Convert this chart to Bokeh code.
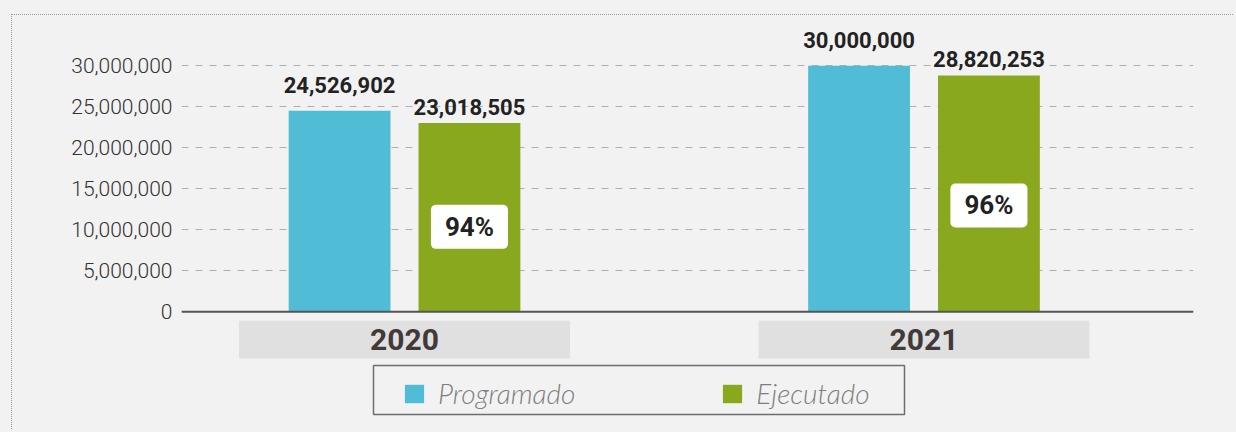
from bokeh.plotting import figure
from bokeh.models import (ColumnDataSource, Range1d, FixedTicker, NumeralTickFormatter,
                          Span, LabelSet, Label, BoxAnnotation, GlobalInlineStyleSheet)
from bokeh.transform import dodge
from bokeh.core.properties import value
from bokeh.embed import file_html
from bokeh.resources import INLINE

# ---- data ----
years = ["2020", "2021"]
programado = [24526902, 30000000]
ejecutado = [23018505, 28820253]
y_ticks = [0, 5000000, 10000000, 15000000, 20000000, 25000000, 30000000]

# ---- styles ----
C_PROG = "#50bcd5"
C_EJEC = "#8aa81d"
BG = "#f2f2f2"
OFF = 0.125

idx = list(range(len(years)))
pct = [f"{round(100 * e / p)}%" for e, p in zip(ejecutado, programado)]
src = ColumnDataSource(dict(
    idx=idx,
    year=years,
    prog=programado,
    ejec=ejecutado,
    prog_lbl=[f"{v:,}" for v in programado],
    ejec_lbl=[f"{v:,}" for v in ejecutado],
    cat_y=[-3.4e6] * len(years),
))

p = figure(width=1222, height=415, output_backend="svg", toolbar_location=None,
           x_range=Range1d(-0.4293, 1.5188), y_range=Range1d(-13.26e6, 35.77e6),
           min_border_left=169, min_border_right=41, min_border_top=3, min_border_bottom=10,
           background_fill_color=BG, border_fill_color=BG, outline_line_color=None)
p.margin = (14, 0, 0, 11)
p.styles = {"border-top": "1px dotted #9a9a9a", "border-left": "1px dotted #9a9a9a"}
p.stylesheets = [GlobalInlineStyleSheet(css="body{background:#f2f2f2;overflow:hidden;}")]

# category boxes below the baseline
p.rect(x="idx", y="cat_y", width=0.637, height=4.6e6, source=src,
       fill_color="#e0e0e0", line_color=None)
p.text(x="idx", y="cat_y", text="year", source=src, text_align="center",
       text_baseline="middle", text_font=value("Roboto"), text_font_style="bold",
       text_font_size="30px", text_color="#403a3a")

# bars
p.vbar(x=dodge("idx", -OFF, range=p.x_range), top="prog", width=0.196, source=src,
       fill_color=C_PROG, line_color=None, legend_label="Programado")
p.vbar(x=dodge("idx", OFF, range=p.x_range), top="ejec", width=0.196, source=src,
       fill_color=C_EJEC, line_color=None, legend_label="Ejecutado")

# baseline
p.add_layout(Span(location=0, dimension="width", line_color="#555555", line_width=2))

# value labels
lbl_kw = dict(text_align="center", text_baseline="alphabetic", text_font=value("Roboto"),
              text_font_style="bold", text_font_size="22px", text_color="#222222")
p.add_layout(LabelSet(x=dodge("idx", -OFF, range=p.x_range), y="prog", text="prog_lbl",
                      y_offset=18, source=src, **lbl_kw))
p.add_layout(LabelSet(x=dodge("idx", OFF, range=p.x_range), y="ejec", text="ejec_lbl",
                      y_offset=8, source=src, **lbl_kw))

# percentage badges
for i, e, t in zip(idx, ejecutado, pct):
    p.add_layout(Label(x=i + OFF, y=0.45 * e, text=t,
                       text_align="center", text_baseline="middle",
                       text_font="Roboto", text_font_style="bold",
                       text_font_size="26px", text_color="#222222",
                       background_fill_color="white", border_radius=5, padding=(14, 7)))

# axes & grid
p.xaxis.visible = False
p.xgrid.visible = False
p.yaxis.ticker = FixedTicker(ticks=y_ticks)
p.yaxis.formatter = NumeralTickFormatter(format="0,0")
p.yaxis.axis_line_color = None
p.yaxis.major_tick_line_color = None
p.yaxis.minor_tick_line_color = None
p.yaxis.major_tick_out = 0
p.yaxis.major_label_standoff = 9
p.yaxis.major_label_text_font = "Roboto Light, Roboto"
p.yaxis.major_label_text_font_size = "21px"
p.yaxis.major_label_text_color = "#333333"
p.ygrid.grid_line_color = "#b0b0b0"
p.ygrid.grid_line_dash = "7 7"
p.ygrid.grid_line_width = 1

# legend frame box
p.add_layout(BoxAnnotation(left=192, right=723, bottom=6, top=55,
                           left_units="screen", right_units="screen",
                           bottom_units="screen", top_units="screen",
                           fill_alpha=0, line_color="#6e6e6e", line_alpha=1.0,
                           line_width=1.5, level="overlay"))

# legend
lg = p.legend[0]
lg.orientation = "horizontal"
lg.location = (221, 10)
lg.label_text_font = "Lato Light, Lato"
lg.label_text_font_style = "italic"
lg.label_text_font_size = "28px"
lg.label_text_color = "#7f7f7f"
lg.glyph_width = 24
lg.glyph_height = 23
lg.label_standoff = 12
lg.spacing = 145
lg.padding = 0
lg.margin = 0
lg.border_line_color = None
lg.background_fill_alpha = 0

open("out.html", "w").write(file_html(p, INLINE))
